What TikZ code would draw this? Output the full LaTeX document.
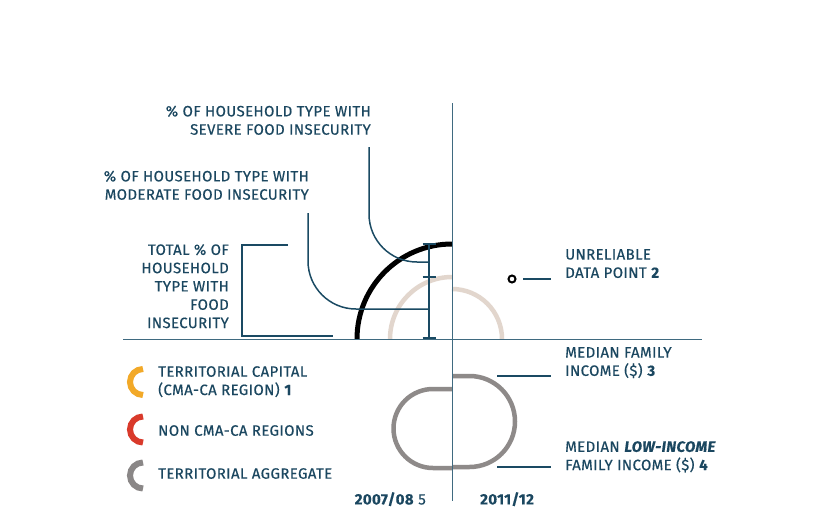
\documentclass[tikz,border=0pt]{standalone}
\usepackage{fontspec}
\setmainfont{Fira Sans}[LetterSpace=2.5, FakeBold=0.4]
\definecolor{txt}{HTML}{1B4760}
\definecolor{lead}{HTML}{1A4A63}
\definecolor{axisc}{HTML}{3F6A80}
\definecolor{beige}{HTML}{E2D6CD}
\definecolor{pill}{HTML}{8E8A89}
\definecolor{orng}{HTML}{F2A928}
\definecolor{redc}{HTML}{D93A2B}
\definecolor{grayc}{HTML}{8A8787}
\tikzset{
  lbl/.style={inner sep=0pt, text=txt, font=\fontsize{15}{18.3}\selectfont},
  lblr/.style={lbl, align=right, anchor=north east},
  lbll/.style={lbl, align=left, anchor=north west},
  axisline/.style={draw=axisc, line width=1pt},
  leader/.style={draw=lead, line width=1.5pt},
  barline/.style={draw=lead, line width=2pt},
  legarc/.style={line width=6pt},
}
\begin{document}
\begin{tikzpicture}[x=1pt,y=-1pt]
\useasboundingbox[fill=white] (0,0) rectangle (839,514);
% axes
\coordinate (vt) at (452,103); \coordinate (vb) at (452,501);
\coordinate (hl) at (123,339); \coordinate (hr) at (702,339);
% beige arcs
\draw[beige, line width=4.5pt] (390,339) arc[start angle=180,end angle=270,radius=62];
\draw[beige, line width=4.5pt] (452,289) arc[start angle=270,end angle=360,radius=50];
% black arc
\draw[black, line width=5pt] (357,339) arc[start angle=180,end angle=270,radius=95];
% gray pill
\draw[pill, line width=4.5pt] (452,376) -- (469.5,376) arc[start angle=270,end angle=450,radius=45.5] -- (452,467);
\draw[pill, line width=4.5pt] (452,389) -- (433,389) arc[start angle=270,end angle=90,radius=39.5] -- (452,468);
\draw[axisline] (vt) -- (vb);
\draw[axisline] (hl) -- (hr);
% error bar
\coordinate (bt) at (429,244); \coordinate (bm) at (429,277); \coordinate (bb) at (429,338);
\draw[barline] (bt) -- (bb);
\draw[barline] ([xshift=-6.5pt]bt) -- ([xshift=6.5pt]bt);
\draw[barline] ([xshift=-6.5pt]bm) -- ([xshift=6.5pt]bm);
\draw[barline] ([xshift=-6.5pt]bb) -- ([xshift=6.5pt]bb);
% leaders
\draw[leader] (369,147) -- (369,214) arc[start angle=180,end angle=90,radius=48] -- (429,262);
\draw[leader] (308,213) -- (308,261) arc[start angle=180,end angle=90,radius=48] -- (429,309);
\draw[leader] (288,245) -- (242,245) -- (242,336) -- (333,336);
% unreliable point
\node[circle, draw=black, fill=white, line width=2pt, minimum size=7pt, inner sep=0pt] (dot) at (512,279) {};
\coordinate (dl) at (551,279);
\draw[leader] ([xshift=11pt]dot.center) -- (dl);
\draw[leader, line width=2pt] (497,376) -- (551,376);
\draw[leader, line width=2pt] (497,467) -- (551,467);
% labels
\node[lblr] (sev) at (371,105.5) {\% OF HOUSEHOLD TYPE WITH\\SEVERE FOOD INSECURITY};
\node[lblr] (mod) at (309,170.5) {\% OF HOUSEHOLD TYPE WITH\\MODERATE FOOD INSECURITY};
\node[lblr] (tot) at (229,244) {TOTAL \% OF\\HOUSEHOLD\\TYPE WITH\\FOOD\\INSECURITY};
\node[lbll] (unr) at (565,249) {UNRELIABLE\\DATA POINT \textbf{2}};
\node[lbll] (mfi) at (565,347) {MEDIAN FAMILY\\INCOME (\$) \textbf{3}};
\node[lbll] (mli) at (565,441) {MEDIAN \textbf{\textit{LOW-INCOME}}\\FAMILY INCOME (\$) \textbf{4}};
% legend
\draw[orng, legarc] (143,369) arc[start angle=270,end angle=90,radius=13];
\draw[redc, legarc] (143,416.5) arc[start angle=270,end angle=90,radius=13];
\draw[grayc, legarc] (143,462.5) arc[start angle=270,end angle=90,radius=13];
\node[lbll] (l1) at (158,366) {TERRITORIAL CAPITAL\\(CMA-CA REGION) \textbf{1}};
\node[lbll] (l2) at (158,425) {NON CMA-CA REGIONS};
\node[lbll] (l3) at (158,468) {TERRITORIAL AGGREGATE};
% years
\node[lbl, anchor=north east] (y1) at (426,492) {\textbf{2007/08} 5};
\node[lbl, anchor=north west] (y2) at (480,492) {\textbf{2011/12}};
\end{tikzpicture}
\end{document}
